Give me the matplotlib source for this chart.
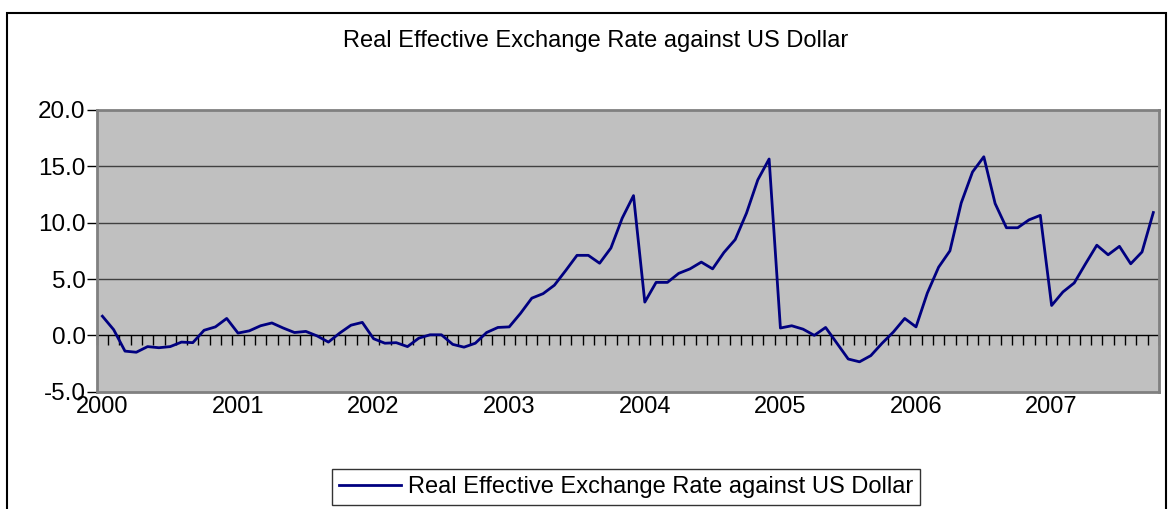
import matplotlib.pyplot as plt
import numpy as np
from matplotlib.patches import Rectangle

# Monthly real effective exchange rate, Jan 2000 - Oct 2007
years = ['2000', '2001', '2002', '2003', '2004', '2005', '2006', '2007']
reer = [
    1.7, 0.5, -1.4, -1.5, -1.0, -1.1, -1.0, -0.6, -0.65, 0.45, 0.75, 1.5,
    0.2, 0.4, 0.85, 1.1, 0.65, 0.25, 0.35, -0.05, -0.6, 0.2, 0.9, 1.15,
    -0.3, -0.7, -0.65, -1.0, -0.25, 0.05, 0.05, -0.8, -1.05, -0.7, 0.25, 0.7,
    0.75, 1.95, 3.3, 3.7, 4.45, 5.75, 7.1, 7.1, 6.4, 7.75, 10.4, 12.4,
    2.95, 4.7, 4.7, 5.5, 5.9, 6.5, 5.9, 7.35, 8.5, 10.85, 13.8, 15.65,
    0.65, 0.85, 0.55, 0.0, 0.7, -0.7, -2.1, -2.35, -1.8, -0.7, 0.3, 1.5,
    0.75, 3.75, 6.05, 7.5, 11.75, 14.5, 15.85, 11.7, 9.55, 9.55, 10.25, 10.65,
    2.65, 3.85, 4.65, 6.35, 8.0, 7.15, 7.9, 6.35, 7.4, 10.9,
]
series_name = 'Real Effective Exchange Rate against US Dollar'

plt.rcParams['font.family'] = ['Liberation Sans', 'DejaVu Sans']

x = np.arange(len(reer))

fig = plt.figure(figsize=(11.74, 5.09), dpi=100)
ax = fig.add_axes([0.0824, 0.2305, 0.9048, 0.5534])
ax.set_facecolor('#c0c0c0')

line, = ax.plot(x, reer, color='#000080', lw=2.0, label=series_name, zorder=3)

ax.set_xlim(-0.5, len(reer) - 0.5)
ax.set_ylim(-5, 20)
ax.set_yticks(np.arange(-5, 21, 5))
ax.set_yticklabels([f'{v:.1f}' for v in np.arange(-5, 21, 5)], fontsize=17.5)
ax.tick_params(axis='y', direction='out', length=7, width=1, color='black', pad=1)
for v in [5, 10, 15]:
    ax.axhline(v, color='#404040', lw=1.0, zorder=1)

# plot-area frame
for s in ['top', 'left', 'right']:
    ax.spines[s].set_color('#808080')
    ax.spines[s].set_linewidth(2)

# category axis drawn through zero with ticks between months
ax.spines['bottom'].set_position(('data', 0))
ax.spines['bottom'].set_color('black')
ax.spines['bottom'].set_linewidth(1)
ax.spines['bottom'].set_zorder(2)
ax.set_xticks(np.arange(-0.5, len(reer)), minor=True)
ax.set_xticks([])
ax.tick_params(axis='x', which='minor', direction='out', length=7, width=1, color='black')

# year labels along the bottom of the plot area
sec = ax.secondary_xaxis(0.0)
sec.set_xticks(np.arange(0, len(reer), 12))
sec.set_xticklabels(years, fontsize=17)
sec.tick_params(length=0, pad=3)
sec.spines['bottom'].set_color('#808080')
sec.spines['bottom'].set_linewidth(2)

fig.text(0.507, 1 - 41 / 509, series_name, ha='center', va='center', fontsize=17)

leg = fig.legend(handles=[line], loc='center', bbox_to_anchor=(626 / 1174, 1 - 487 / 509),
                 fontsize=17, frameon=True, fancybox=False, edgecolor='black',
                 handlelength=2.6, handletextpad=0.3, borderpad=0.3, borderaxespad=0)
leg.get_frame().set_linewidth(1)

# outer chart border, running off the bottom edge
fig.patches.append(Rectangle((7, -20), 1159, 509 - 13 + 20, transform=None, fill=False,
                             edgecolor='black', lw=1.5))

fig.savefig('out.png', dpi=100)
